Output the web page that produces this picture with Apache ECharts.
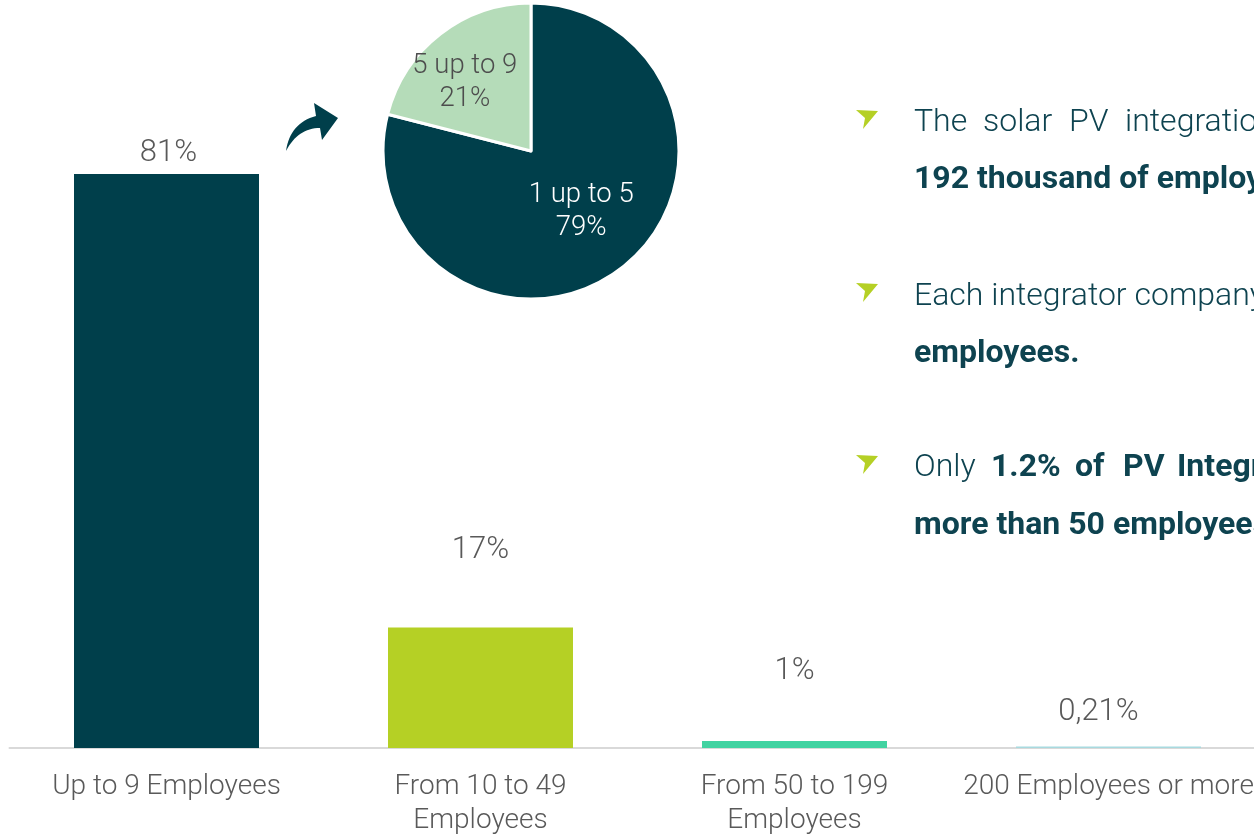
<!DOCTYPE html>
<html>
<head>
<meta charset="utf-8">
<style>
  html, body { margin: 0; padding: 0; background: #fff; }
  #chart { width: 1254px; height: 834px; }
</style>
<script src="https://cdn.jsdelivr.net/npm/echarts@6/dist/echarts.min.js"></script>
</head>
<body>
<div id="chart"></div>
<script>
// Company size distribution of PV integrators
const categories = ['Up to 9 Employees', 'From 10 to 49\nEmployees', 'From 50 to 199\nEmployees', '200 Employees or more'];
const shares = [81, 17, 1, 0.21];

// Breakdown of the smallest size class
const pieNames = ['1 up to 5', '5 up to 9'];
const pieShares = [79, 21];

// Key findings, one entry per bullet: first line (words) and second line
const bulletFirstLines = [
  [['The', false], ['solar', false], ['PV', false], ['integration', false], ['sector', false], ['employs', false]],
  [['Each integrator company has on average 5', false]],
  [['Only', false], ['1.2%', true], ['of', true], ['PV', true], ['Integrators', true], ['have', false]]
];
const bulletSecondLines = ['192 thousand of employees.', 'employees.', 'more than 50 employees.'];

// ---- styling ----
const DARK = '#003f4b';
const TEXT_DARK = '#0e4350';
const barColors = ['#003f4b', '#b5d025', '#41d3a1', '#a8dadf'];
const labelGaps = [6, 62, 55, 19];
const labelShifts = [[2, 0], [0, 0], [0, 0], [-10, 0]];
const FONT = 'Roboto, "Noto Sans", sans-serif';

const fmtPct = v => String(v).replace('.', ',') + '%';

const barData = shares.map((v, i) => ({
  value: v,
  itemStyle: { color: barColors[i] },
  label: { distance: labelGaps[i], offset: labelShifts[i] }
}));

const pieLabelOffsets = [[3, 0], [-19, -8]];
const pieColors = [DARK, '#b5dcb9'];
const pieLabelColors = ['#ffffff', '#4d4d4d'];
const pieData = pieNames.map((n, i) => ({
  name: n,
  value: pieShares[i],
  itemStyle: { color: pieColors[i] },
  label: { color: pieLabelColors[i], offset: pieLabelOffsets[i] }
}));

// sample a quadratic Bezier into polygon points
function quad(p0, c, p1, n) {
  const pts = [];
  for (let i = 0; i <= n; i++) {
    const t = i / n, u = 1 - t;
    pts.push([u * u * p0[0] + 2 * u * t * c[0] + t * t * p1[0],
              u * u * p0[1] + 2 * u * t * c[1] + t * t * p1[1]]);
  }
  return pts;
}
// curved arrow outline: upper edge, arrow head, lower edge back to the tail
const arrowPts = []
  .concat(quad([286, 151], [290, 123], [316, 116], 16))
  .concat([[314, 103], [338, 118], [322, 140]])
  .concat(quad([320, 128], [298, 128], [286, 151], 16));

// bullet text layout
const TEXT_X = 914;
const wordX = [
  [914, 983, 1069, 1125, 1300, 1420],
  [914],
  [914, 991, 1075, 1123, 1177, 1380]
];
const lineY = [[123, 180], [297, 354], [468, 526]];
const bulletY = [119, 292, 464];

const graphics = [];
graphics.push({
  type: 'polygon',
  shape: { points: arrowPts },
  style: { fill: DARK }
});
bulletFirstLines.forEach((words, b) => {
  const y0 = bulletY[b];
  graphics.push({
    type: 'polygon',
    shape: { points: [[856, y0 - 9], [878, y0 - 8], [863, y0 + 10], [865, y0 - 1]] },
    style: { fill: '#b5d025' }
  });
  words.forEach((w, k) => {
    graphics.push({
      type: 'text',
      x: wordX[b][k], y: lineY[b][0],
      style: {
        text: w[0], fill: TEXT_DARK,
        font: (w[1] ? 'bold ' : '300 ') + '32px ' + FONT,
        verticalAlign: 'middle', align: 'left'
      }
    });
  });
  graphics.push({
    type: 'text',
    x: TEXT_X, y: lineY[b][1],
    style: {
      text: bulletSecondLines[b], fill: TEXT_DARK,
      font: 'bold 32px ' + FONT,
      verticalAlign: 'middle', align: 'left'
    }
  });
});

const chart = echarts.init(document.getElementById('chart'), null, { renderer: 'canvas' });
chart.setOption({
  animation: false,
  backgroundColor: '#ffffff',
  grid: { left: 9.5, width: 1256, top: 39.4, bottom: 86, outerBoundsMode: 'none', containLabel: false },
  xAxis: {
    type: 'category',
    data: categories,
    axisLine: { lineStyle: { color: '#d9d9d9', width: 2 } },
    axisTick: { show: false },
    axisLabel: {
      color: '#595959', fontFamily: FONT, fontWeight: 300, fontSize: 28,
      lineHeight: 34, margin: 22, interval: 0
    }
  },
  yAxis: { type: 'value', min: 0, max: 100, show: false, splitLine: { show: false } },
  series: [
    {
      type: 'bar',
      data: barData,
      barWidth: 185,
      label: {
        show: true, position: 'top',
        color: '#595959', fontFamily: FONT, fontWeight: 300, fontSize: 31, lineHeight: 30,
        formatter: p => fmtPct(p.value)
      }
    },
    {
      type: 'pie',
      center: [531, 151],
      radius: [0, 148],
      startAngle: 90,
      clockwise: true,
      data: pieData,
      itemStyle: { borderColor: '#ffffff', borderWidth: 3 },
      label: {
        show: true, position: 'inside',
        fontFamily: FONT, fontWeight: 300, fontSize: 27.5, lineHeight: 33,
        formatter: p => p.name + '\n' + p.value + '%'
      },
      labelLine: { show: false },
      emphasis: { disabled: true }
    }
  ],
  graphic: graphics
});
</script>
</body>
</html>
